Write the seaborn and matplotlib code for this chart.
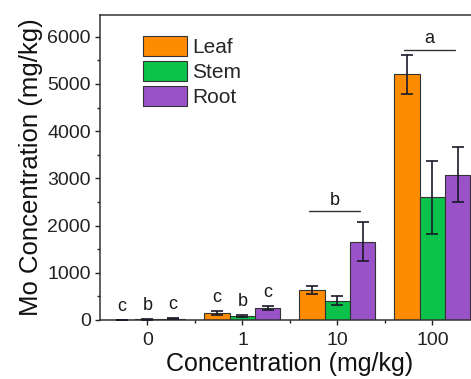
import matplotlib
matplotlib.use("Agg")
import matplotlib.pyplot as plt
from matplotlib.ticker import MultipleLocator, FixedLocator
import numpy as np
import pandas as pd
import seaborn as sns

# data
concentrations = ["0", "1", "10", "100"]
tissues = ["Leaf", "Stem", "Root"]
leaf_mean = [5, 150, 640, 5200]
leaf_err = [5, 40, 90, 420]
stem_mean = [12, 85, 410, 2600]
stem_err = [5, 20, 100, 770]
root_mean = [25, 255, 1660, 3080]
root_err = [8, 40, 420, 580]

# per-bar letters for the two low groups, group letters for the high ones
bar_letters = {"0": ["c", "b", "c"], "1": ["c", "b", "c"]}
group_letters = {"10": "b", "100": "a"}
group_line_y = {"10": 2300, "100": 5720}

colors = ["#FF8C00", "#0BC24A", "#9A52C9"]

sns.set_theme(style="ticks")
plt.rcParams["font.family"] = ["Liberation Sans", "DejaVu Sans"]

df = pd.DataFrame({
    "conc": concentrations * 3,
    "tissue": np.repeat(tissues, len(concentrations)),
    "value": leaf_mean + stem_mean + root_mean,
    "err": leaf_err + stem_err + root_err,
})

fig = plt.figure(figsize=(4.71, 3.79), dpi=100)
ax = fig.add_axes([0.2123, 0.1557, 0.8068, 0.8047])

sns.barplot(data=df, x="conc", y="value", hue="tissue", order=concentrations,
            hue_order=tissues, palette=colors, errorbar=None, width=0.8,
            edgecolor="#333333", linewidth=0.8, saturation=1, ax=ax)

# error bars and letters placed on the seaborn bars
bars = [p for p in ax.patches if p.get_width() > 0 and p.get_height() >= 0][:12]
for i, tissue in enumerate(tissues):
    for j, conc in enumerate(concentrations):
        p = bars[i * len(concentrations) + j]
        row = df[(df.tissue == tissue) & (df.conc == conc)].iloc[0]
        cx = p.get_x() + p.get_width() / 2
        ax.errorbar(cx, row.value, yerr=row.err, fmt="none", ecolor="#1a1a2a",
                    elinewidth=1.2, capsize=4, capthick=1.2, zorder=5)
        if conc in bar_letters:
            ax.text(cx, row.value + row.err + 190, bar_letters[conc][i],
                    ha="center", va="baseline", fontsize=13, color="#1a1a1a")

for conc, letter in group_letters.items():
    gx = concentrations.index(conc) - 0.03
    y = group_line_y[conc]
    ax.plot([gx - 0.27, gx + 0.27], [y, y], color="#333333", lw=1.0)
    ax.text(gx, y + 140, letter, ha="center", va="baseline", fontsize=13,
            color="#1a1a1a")

ax.set_xlim(-0.5, 3.5)
ax.set_ylim(0, 6460)
ax.yaxis.set_major_locator(MultipleLocator(1000))
ax.yaxis.set_minor_locator(MultipleLocator(500))
ax.xaxis.set_minor_locator(FixedLocator([0.5, 1.5, 2.5]))
ax.tick_params(which="major", direction="out", length=3.6, width=1, labelsize=14,
               colors="#222222", pad=3)
ax.tick_params(axis="x", which="major", pad=5)
ax.tick_params(which="minor", direction="out", length=2.5, width=1, colors="#222222")

for s in ["top", "left", "bottom"]:
    ax.spines[s].set_visible(True)
    ax.spines[s].set_color("#333333")
    ax.spines[s].set_linewidth(1.1)
ax.spines["right"].set_visible(False)

ax.set_xlabel("Concentration (mg/kg)", fontsize=18, labelpad=2.5, color="#111111")
ax.set_ylabel("Mo Concentration (mg/kg)", fontsize=18.5, labelpad=3, color="#111111")

ax.legend(loc="upper left", bbox_to_anchor=(0.113, 0.93), frameon=False,
          fontsize=15, handlelength=2.1, handleheight=1.05, labelspacing=0.2,
          borderpad=0, borderaxespad=0, handletextpad=0.25)
for h in ax.get_legend().legend_handles:
    h.set_edgecolor("#333333")
    h.set_linewidth(0.8)

fig.savefig("out.png", dpi=100)
